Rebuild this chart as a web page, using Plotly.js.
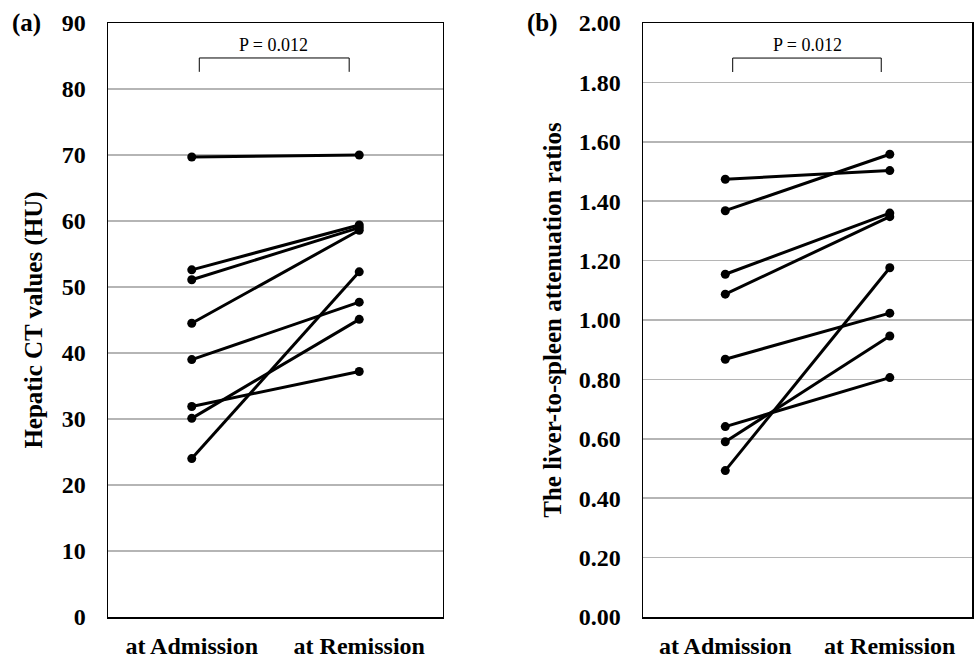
<!DOCTYPE html>
<html>
<head>
<meta charset="utf-8">
<script src="https://cdn.plot.ly/plotly-3.0.1.min.js"></script>
<style>html,body{margin:0;padding:0;background:#fff;}#chart{width:974px;height:661px;}</style>
</head>
<body>
<div id="chart"></div>
<script>
// Categories
const categories = ["at Admission", "at Remission"];

// Panel (a): Hepatic CT values (HU), one pair per patient
const hcAdmission = [69.7, 52.6, 51.1, 44.5, 39.0, 31.9, 30.1, 24.0];
const hcRemission = [70.0, 59.4, 59.0, 58.6, 47.7, 37.2, 45.1, 52.3];

// Panel (b): liver-to-spleen attenuation ratios, one pair per patient
const lsAdmission = [1.474, 1.368, 1.154, 1.087, 0.868, 0.641, 0.590, 0.493];
const lsRemission = [1.503, 1.558, 1.360, 1.348, 1.023, 0.806, 0.946, 1.176];

const pText = "P = 0.012";
const yTitleA = "Hepatic CT values (HU)";
const yTitleB = "The liver-to-spleen attenuation ratios";

const serif = "Liberation Serif, Times New Roman, serif";
const traces = [];
function addPairs(adm, rem, xa, ya) {
  for (let i = 0; i < adm.length; i++) {
    traces.push({
      type: "scatter", mode: "lines+markers",
      x: categories, y: [adm[i], rem[i]],
      xaxis: xa, yaxis: ya,
      line: {color: "#000", width: 3},
      marker: {color: "#000", size: 9},
      showlegend: false, hoverinfo: "skip"
    });
  }
}
addPairs(hcAdmission, hcRemission, "x", "y");
addPairs(lsAdmission, lsRemission, "x2", "y2");

const tickFont = {family: serif, size: 24, color: "#000", weight: "bold"};
const xCommon = {
  type: "category", range: [-0.5, 1.5],
  showline: true, mirror: true, linecolor: "#000", linewidth: 1.5,
  showgrid: false, ticks: "", tickfont: tickFont, ticklabelstandoff: 7, fixedrange: true
};
const yCommon = {
  showline: true, mirror: true, linecolor: "#000", linewidth: 1.5,
  showgrid: true, gridcolor: "#b5b5b5", gridwidth: 1.5,
  zeroline: false, ticks: "", tickfont: tickFont, ticklabelstandoff: 16
};

const layout = {
  width: 974, height: 661,
  margin: {l: 0, r: 0, t: 23, b: 44},
  paper_bgcolor: "#fff", plot_bgcolor: "#fff",
  xaxis: Object.assign({}, xCommon, {domain: [0.1109, 0.4548], anchor: "y"}),
  xaxis2: Object.assign({}, xCommon, {domain: [0.6602, 0.998], anchor: "y2"}),
  yaxis: Object.assign({}, yCommon, {
    range: [0, 90], dtick: 10, anchor: "x",
    title: {text: yTitleA, font: {family: serif, size: 25, color: "#000", weight: "bold"}, standoff: 12}
  }),
  yaxis2: Object.assign({}, yCommon, {
    range: [0, 2], dtick: 0.2, tickformat: ".2f", anchor: "x2",
    title: {text: yTitleB, font: {family: serif, size: 25, color: "#000", weight: "bold"}, standoff: 10}
  }),
  shapes: [
    {type: "path", xref: "x", yref: "y", path: "M 0.045,82.6 L 0.045,84.7 L 0.94,84.7 L 0.94,82.6", line: {color: "#000", width: 1}},
    {type: "path", xref: "x2", yref: "y2", path: "M 0.045,1.835 L 0.045,1.882 L 0.948,1.882 L 0.948,1.835", line: {color: "#000", width: 1}}
  ],
  annotations: [
    {xref: "x", yref: "y", x: 0.49, y: 84.7, yanchor: "bottom", text: pText, showarrow: false, yshift: 1,
     font: {family: serif, size: 18, color: "#000"}},
    {xref: "x2", yref: "y2", x: 0.497, y: 1.882, yanchor: "bottom", text: pText, showarrow: false, yshift: 1,
     font: {family: serif, size: 18, color: "#000"}},
    {xref: "paper", yref: "paper", x: 10/974, y: 1.0, xanchor: "left", yanchor: "middle", text: "(a)", showarrow: false,
     font: {family: serif, size: 25, color: "#000", weight: "bold"}},
    {xref: "paper", yref: "paper", x: 525/974, y: 1.0, xanchor: "left", yanchor: "middle", text: "(b)", showarrow: false,
     font: {family: serif, size: 25, color: "#000", weight: "bold"}}
  ]
};

Plotly.newPlot("chart", traces, layout, {displayModeBar: false, staticPlot: true});
</script>
</body>
</html>
